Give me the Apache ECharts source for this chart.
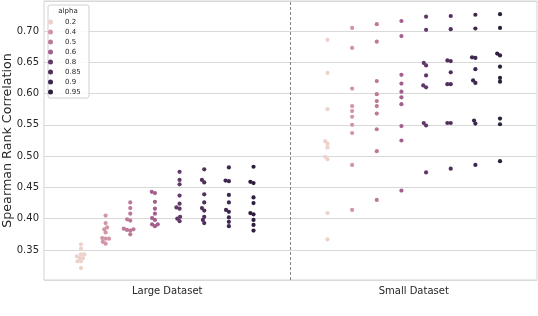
<!DOCTYPE html>
<html><head><meta charset="utf-8">
<script src="https://cdn.jsdelivr.net/npm/echarts@6/dist/echarts.min.js"></script>
<style>html,body{margin:0;padding:0;background:#fff}#c{width:538px;height:316px}</style>
</head><body><div id="c"></div>
<script>
const categories = ['Large Dataset', 'Small Dataset'];
const alphas = ['0.2', '0.4', '0.5', '0.6', '0.8', '0.85', '0.9', '0.95'];
const alphaValues = [0.2, 0.4, 0.5, 0.6, 0.8, 0.85, 0.9, 0.95];

const large02  = [0.359, 0.352, 0.343, 0.343, 0.340, 0.337, 0.337, 0.332, 0.332, 0.321];
const large04  = [0.405, 0.393, 0.386, 0.383, 0.378, 0.369, 0.368, 0.368, 0.363, 0.360];
const large05  = [0.426, 0.417, 0.408, 0.399, 0.397, 0.384, 0.383, 0.382, 0.381, 0.375];
const large06  = [0.443, 0.441, 0.427, 0.416, 0.408, 0.401, 0.398, 0.391, 0.391, 0.388];
const large08  = [0.475, 0.462, 0.455, 0.437, 0.424, 0.418, 0.416, 0.403, 0.400, 0.396];
const large085 = [0.479, 0.462, 0.458, 0.439, 0.426, 0.417, 0.413, 0.403, 0.398, 0.393];
const large09  = [0.482, 0.461, 0.460, 0.438, 0.426, 0.414, 0.411, 0.402, 0.395, 0.388];
const large095 = [0.483, 0.459, 0.457, 0.434, 0.425, 0.409, 0.407, 0.398, 0.390, 0.381];

const small02  = [0.686, 0.633, 0.575, 0.524, 0.520, 0.514, 0.499, 0.495, 0.409, 0.367];
const small04  = [0.705, 0.673, 0.608, 0.580, 0.572, 0.563, 0.550, 0.537, 0.486, 0.414];
const small05  = [0.711, 0.683, 0.620, 0.599, 0.588, 0.580, 0.568, 0.543, 0.508, 0.430];
const small06  = [0.716, 0.692, 0.630, 0.616, 0.603, 0.594, 0.583, 0.548, 0.525, 0.445];
const small08  = [0.723, 0.702, 0.649, 0.645, 0.629, 0.613, 0.610, 0.553, 0.549, 0.474];
const small085 = [0.724, 0.703, 0.653, 0.652, 0.634, 0.615, 0.615, 0.553, 0.553, 0.480];
const small09  = [0.726, 0.704, 0.658, 0.657, 0.639, 0.621, 0.617, 0.557, 0.552, 0.486];
const small095 = [0.727, 0.705, 0.664, 0.661, 0.643, 0.625, 0.619, 0.560, 0.551, 0.492];

const largeVals = [large02, large04, large05, large06, large08, large085, large09, large095];
const smallVals = [small02, small04, small05, small06, small08, small085, small09, small095];

// seaborn default cubehelix colormap (light=.85, dark=.15, rot=.4)
function cubehelix(t) {
  const light = 0.85, dark = 0.15, start = 0, rot = 0.4, hue = 0.8;
  const x = light + (dark - light) * t;
  const a = hue * x * (1 - x) / 2;
  const phi = 2 * Math.PI * (start / 3 + rot * x);
  const f = (p0, p1) => Math.round(255 * Math.min(1, Math.max(0, x + a * (p0 * Math.cos(phi) + p1 * Math.sin(phi)))));
  return 'rgb(' + f(-0.14861, 1.78277) + ',' + f(-0.29227, -0.90649) + ',' + f(1.97294, 0) + ')';
}
const aMin = Math.min(...alphaValues), aMax = Math.max(...alphaValues);
const colors = alphaValues.map(a => cubehelix((a - aMin) / (aMax - aMin)));

const W = 538, H = 316;
const GRID = { left: 44, right: 1, top: 1, bottom: 36 };
const Y_MIN = 0.302, Y_MAX = 0.748;
const pxPerY = (H - GRID.top - GRID.bottom) / (Y_MAX - Y_MIN);
const pxPerX = (W - GRID.left - GRID.right) / 2;
const D = 3.4;

function swarmOffsets(vals, d) {
  const idx = vals.map((v, i) => i).sort((a, b) => vals[a] - vals[b]);
  const placed = [];
  const out = new Array(vals.length);
  for (const i of idx) {
    const py = vals[i] * pxPerY;
    const cands = [0];
    for (const q of placed) {
      const dy = py - q.py;
      if (Math.abs(dy) < d) {
        const dx = Math.sqrt(d * d - dy * dy);
        cands.push(q.px + dx, q.px - dx);
      }
    }
    cands.sort((a, b) => (Math.abs(a) - Math.abs(b)) || (a - b));
    let chosen = 0;
    for (const c of cands) {
      if (placed.every(q => (c - q.px) ** 2 + (py - q.py) ** 2 >= d * d - 1e-6)) { chosen = c; break; }
    }
    placed.push({ px: chosen, py });
    out[i] = chosen / pxPerX;
  }
  return out;
}

const FONT = 'DejaVu Sans';
const series = alphas.map((name, i) => {
  const data = [];
  [largeVals[i], smallVals[i]].forEach((vals, c) => {
    const offs = swarmOffsets(vals, D);
    const center = c + (i - 3.5) * 0.1;
    vals.forEach((v, k) => data.push([center + offs[k], v]));
  });
  return {
    name, type: 'scatter', xAxisIndex: 1, yAxisIndex: 0, data,
    symbolSize: 4.2, itemStyle: { color: colors[i], opacity: 1 }, z: 3
  };
});
series[0].markLine = {
  silent: true, symbol: 'none', label: { show: false },
  lineStyle: { type: [3, 2], color: '#666', width: 0.8 },
  data: [{ xAxis: 0.5 }]
};

const chart = echarts.init(document.getElementById('c'), null, { renderer: 'canvas' });
chart.setOption({
  animation: false,
  backgroundColor: '#fff',
  textStyle: { fontFamily: FONT },
  grid: { left: GRID.left, right: GRID.right, top: GRID.top, bottom: GRID.bottom, show: true,
    borderColor: '#d3d3d3', borderWidth: 1, containLabel: false, outerBoundsMode: 'none' },
  xAxis: [
    { type: 'category', data: categories, axisTick: { show: false }, axisLine: { show: false }, splitLine: { show: false },
      axisLabel: { fontSize: 10, color: '#262626', margin: 6, fontFamily: FONT } },
    { type: 'value', min: -0.5, max: 1.5, show: false }
  ],
  yAxis: {
    type: 'value', min: Y_MIN, max: Y_MAX, splitNumber: 9,
    name: 'Spearman Rank Correlation', nameLocation: 'middle', nameGap: 30, nameMoveOverlap: false,
    nameTextStyle: { fontSize: 12.7, color: '#262626', fontFamily: FONT },
    axisLine: { show: false }, axisTick: { show: false },
    axisLabel: { fontSize: 10, color: '#262626', margin: 5, showMinLabel: false, showMaxLabel: false,
      formatter: v => v.toFixed(2), fontFamily: FONT },
    splitLine: { lineStyle: { color: '#d9d9d9', width: 1 } }
  },
  legend: {
    data: alphas, orient: 'vertical', left: 48, top: 17, padding: 0, itemGap: 0,
    icon: 'circle', itemWidth: 19, itemHeight: 5,
    textStyle: { fontSize: 7, lineHeight: 10, color: '#262626', fontFamily: FONT }
  },
  graphic: [
    { type: 'rect', z: 3, shape: { x: 48, y: 5, width: 41, height: 93, r: 2 },
      style: { fill: 'rgba(255,255,255,0.85)', stroke: '#d0d0d0', lineWidth: 1 } },
    { type: 'text', z: 5, x: 68, y: 11,
      style: { text: 'alpha', fontSize: 7, fill: '#262626', align: 'center', verticalAlign: 'middle', fontFamily: FONT } }
  ],
  series
});
</script>
</body></html>
